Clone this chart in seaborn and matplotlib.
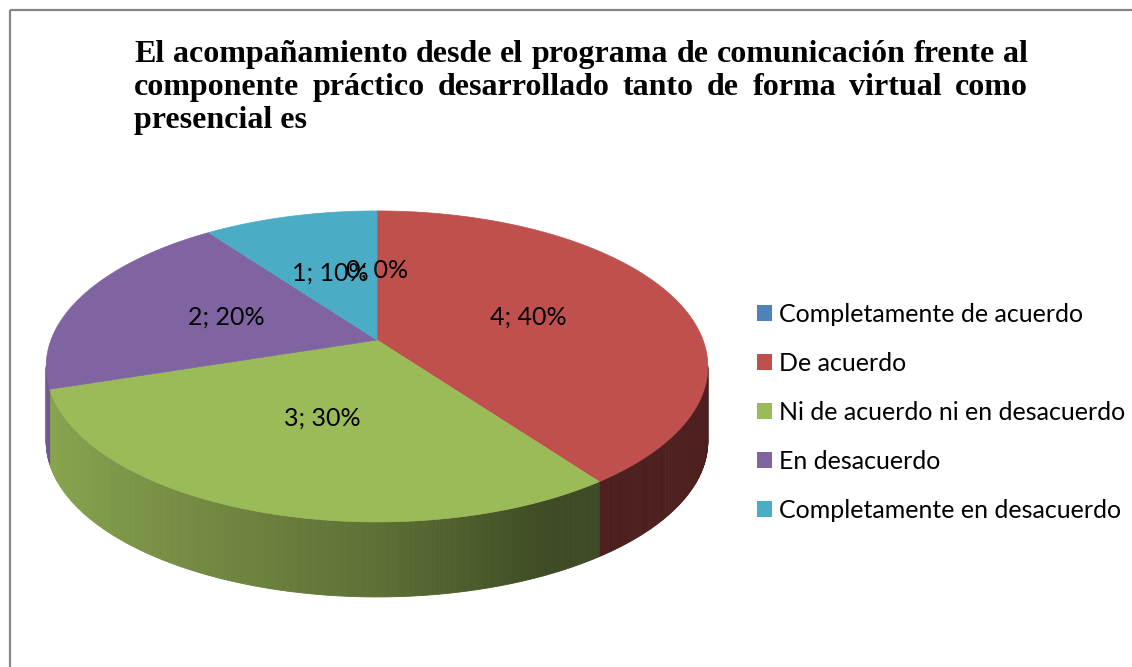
import matplotlib
matplotlib.use("Agg")
import matplotlib.pyplot as plt
from matplotlib.patches import Polygon, Patch, Rectangle
from matplotlib.collections import PolyCollection
import matplotlib.colors as mcolors
import numpy as np
import seaborn as sns

categories = ["Completamente de acuerdo", "De acuerdo",
              "Ni de acuerdo ni en desacuerdo", "En desacuerdo",
              "Completamente en desacuerdo"]
counts = [0, 4, 3, 2, 1]
colors = ["#4f81bd", "#c0504d", "#9bbb59", "#8064a2", "#4bacc6"]
title_lines = ["El acompañamiento desde el programa de comunicación frente al",
               "componente práctico desarrollado tanto de forma virtual como",
               "presencial es"]

sns.set_theme(style="white")
plt.rcParams["font.family"] = ["Lato", "DejaVu Sans"]
plt.rcParams["text.color"] = "black"
palette = sns.color_palette(colors)

W, H = 1132, 667
fig = plt.figure(figsize=(W / 100, H / 100), dpi=100)
ax = fig.add_axes([0, 0, 1, 1])
ax.set_xlim(0, W)
ax.set_ylim(H, 0)
ax.axis("off")

# outer frame (only left + top visible in the original)
ax.add_patch(Rectangle((10, 10), 1300, 900, fill=False, edgecolor="#878787", lw=1.6))

# pie geometry in pixels: tilted disc with a little perspective
cx, cy = 377, 340
A, B, k = 326, 151, 0.17
depth = 75


def proj(theta, r=1.0):
    t = np.radians(theta)
    w = 1 + k * r * np.sin(t)
    return cx + A * r * np.cos(t) / w, cy - B * r * np.sin(t) / w


def shade(theta):
    c = np.cos(np.radians(theta))
    f = 0.6 - 0.3 * c if c < 0 else 0.6 - 0.45 * c
    return max(f, 0.40)


total = sum(counts)
starts, ends = [], []
a = 90.0
for v in counts:
    starts.append(a)
    a -= 360.0 * v / total
    ends.append(a)

# side wall, only the front part is visible
lo = -180 + np.degrees(np.arcsin(k))
hi = -np.degrees(np.arcsin(k))
for v, s, e, col in zip(counts, starts, ends, palette):
    if v == 0:
        continue
    a0, a1 = max(e, lo), min(s, hi)
    if a0 >= a1:
        continue
    ts = np.linspace(a0, a1, int((a1 - a0) * 2) + 2)
    polys, fcs = [], []
    for t1, t2 in zip(ts[:-1], ts[1:]):
        x1, y1 = proj(t1)
        x2, y2 = proj(t2)
        polys.append([(x1, y1), (x2, y2), (x2, y2 + depth), (x1, y1 + depth)])
        f = shade((t1 + t2) / 2)
        fcs.append(tuple(np.array(mcolors.to_rgb(col)) * f))
    ax.add_collection(PolyCollection(polys, facecolors=fcs, edgecolors=fcs, linewidths=0.6))

# top faces
for v, s, e, col in zip(counts, starts, ends, palette):
    if v == 0:
        continue
    ts = np.linspace(s, e, 200)
    xs, ys = proj(ts)
    pts = [(cx, cy)] + list(zip(xs, ys))
    ax.add_patch(Polygon(pts, closed=True, facecolor=col, edgecolor=col, lw=0.5))

# data labels "n; p%"
for v, s, e in zip(counts, starts, ends):
    mid = (s + e) / 2
    lx, ly = proj(mid, 0.5)
    pct = round(100 * v / total)
    ax.text(lx, ly, f"{v}; {pct}%", ha="center", va="center", fontsize=18,
            color="black")

# title, justified like the Word original
x0, x1 = 134, 1028
baselines = [62, 95, 128]
r = fig.canvas.get_renderer()
probe = ax.text(0, 0, title_lines[0], fontsize=20, fontweight="bold",
                family=["Liberation Serif"])
size = 20 * (x1 - x0) / probe.get_window_extent(r).width
probe.remove()
for j, (line, yb) in enumerate(zip(title_lines, baselines)):
    if j == len(title_lines) - 1:
        ax.text(x0, yb, line, fontsize=size, fontweight="bold", color="black",
                family=["Liberation Serif"], va="baseline", ha="left")
        continue
    words = line.split()
    items = [ax.text(x0, yb, w, fontsize=size, fontweight="bold", color="black",
                     family=["Liberation Serif"], va="baseline", ha="left")
             for w in words]
    widths = [t.get_window_extent(r).width for t in items]
    gap = (x1 - x0 - sum(widths)) / (len(words) - 1)
    x = x0
    for t, wd in zip(items, widths):
        t.set_x(x)
        x += wd + gap

handles = [Patch(facecolor=c, edgecolor="none") for c in palette]
leg = ax.legend(handles, categories, loc="upper left",
                bbox_to_anchor=(757 / W, 1 - 303 / H), frameon=False, fontsize=18,
                handlelength=0.6, handleheight=0.6, handletextpad=0.28,
                labelspacing=1.04, borderpad=0, borderaxespad=0)
for t in leg.get_texts():
    t.set_color("black")

fig.savefig("out.png", dpi=100)
